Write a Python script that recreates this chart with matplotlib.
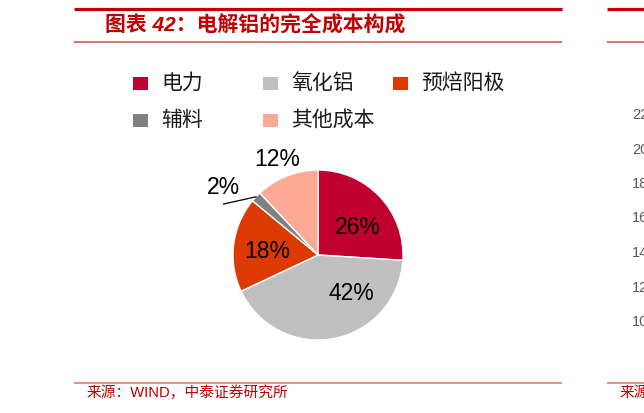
import numpy as np
import matplotlib.pyplot as plt
from matplotlib.patches import Rectangle

plt.rcParams['font.family'] = ['Liberation Sans', 'Noto Sans CJK SC']

# data
categories = ['电力', '氧化铝', '预焙阳极', '辅料', '其他成本']
shares = [26, 42, 18, 2, 12]
colors = ['#C0002F', '#C0C0C0', '#DC3A00', '#808080', '#FCAA96']

# tick labels of the neighbouring (cut-off) chart on the right
right_ticks = ['22', '20', '18', '16', '14', '12', '10']

title = '图表 42：电解铝的完全成本构成'
source = '来源：WIND，中泰证券研究所'

W, H = 644, 413
fig = plt.figure(figsize=(W / 100, H / 100), dpi=100)

# background axes in pixel units (y downwards)
bg = fig.add_axes([0, 0, 1, 1])
bg.set_xlim(0, W)
bg.set_ylim(H, 0)
bg.axis('off')

red = '#C00000'
# frame lines of the two panels
for x0, x1 in [(74, 562), (607, 644)]:
    bg.plot([x0, x1], [8.5, 8.5], color=red, lw=2.3, solid_capstyle='butt')
    bg.plot([x0, x1], [41.8, 41.8], color='#D64848', lw=1.1, solid_capstyle='butt')
    bg.plot([x0, x1], [382.7, 382.7], color='#E07070', lw=1.1, solid_capstyle='butt')

bg.text(105, 25, title, color=red, fontsize=15, fontweight='bold', style='italic',
        va='center', ha='left')
bg.text(87, 393, source, color=red, fontsize=10.6, va='center', ha='left')
bg.text(620, 393, source, color=red, fontsize=10.6, va='center', ha='left')

# cut-off y tick labels of the right chart
for i, t in enumerate(right_ticks):
    bg.text(632, 115 + i * 34.5, t, color='#595959', fontsize=10.5, va='center', ha='left')

# legend (Excel style, fixed column pitch)
legend_pos = [(133, 83), (263, 83), (393, 83), (133, 120), (263, 120)]
for (x, y), name, c in zip(legend_pos, categories, colors):
    bg.add_patch(Rectangle((x, y - 6.5), 15.5, 13, color=c, lw=0))
    bg.text(x + 28, y, name, fontsize=15, color='#1a1a1a', va='center', ha='left',
            family='Noto Sans CJK SC')

# pie, in pixel units around its centre
cx, cy, r = 318, 255, 85
pax = fig.add_axes([(cx - 100) / W, (H - cy - 100) / H, 200 / W, 200 / H])
wedges, _ = pax.pie(shares, colors=colors, startangle=90, counterclock=False, radius=r,
                    wedgeprops=dict(edgecolor='white', linewidth=1))
pax.set_xlim(-100, 100)
pax.set_ylim(-100, 100)
pax.axis('off')

label_xy = [(40, 27), (33, -38), (-51, 3), (-95, 67.5), (-41, 95)]
for (lx, ly), v in zip(label_xy, shares):
    pax.text(lx, ly, f'{v}%', fontsize=16.5, color='black', ha='center', va='center')

# leader line for the small slice
w = wedges[3]
mid = np.deg2rad((w.theta1 + w.theta2) / 2)
pax.plot([-94.4, r * np.cos(mid)], [51, r * np.sin(mid)], color='black', lw=0.9)

fig.savefig('out.png', dpi=100)
